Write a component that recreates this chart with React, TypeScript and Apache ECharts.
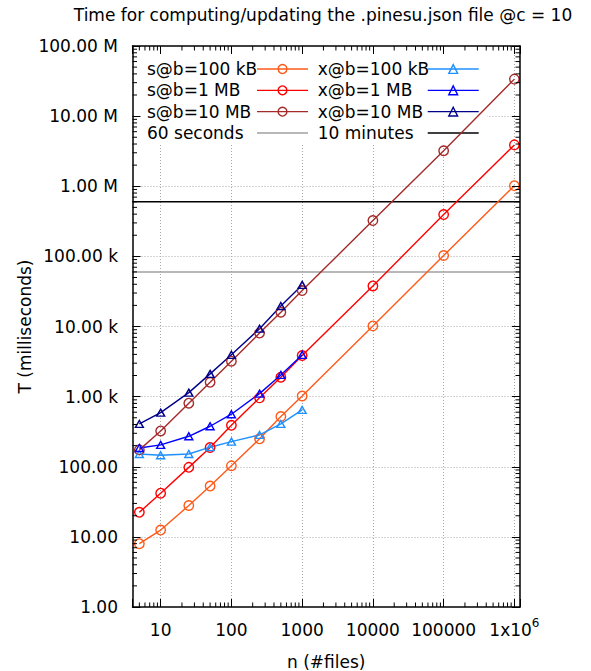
import React, { useEffect, useRef } from 'react';
import * as echarts from 'echarts';

// ---- data ----
const nFiles = [5, 10, 25, 50, 100, 250, 500, 1000, 10000, 100000, 1000000];
const nFilesX = [5, 10, 25, 50, 100, 250, 500, 1000];

const sB100k = [8, 12.5, 28, 53, 103, 250, 520, 1020, 10200, 103000, 1020000];
const sB1M = [22.4, 42, 98, 188, 390, 960, 1890, 3850, 37900, 395000, 3890000];
const sB10M = [174, 324, 806, 1600, 3200, 8050, 16000, 32500, 324000, 3200000, 33700000];

const xB100k = [152, 146, 152, 190, 228, 284, 408, 646];
const xB1M = [185, 205, 272, 378, 561, 1104, 2040, 3935];
const xB10M = [408, 591, 1140, 2110, 3950, 9300, 19600, 39200];

const limit60s = 60000;
const limit10min = 600000;

const xTickLabels = ['10', '100', '1000', '10000', '100000', '{m|1x10}{s|6}'];
const yTickLabels = ['1.00', '10.00', '100.00', '1.00 k', '10.00 k', '100.00 k', '1.00 M', '10.00 M', '100.00 M'];

const seriesNames = ['s@b=100 kB', 's@b=1 MB', 's@b=10 MB', '60 seconds', 'x@b=100 kB', 'x@b=1 MB', 'x@b=10 MB', '10 minutes'];

// ---- styles ----
const FONT = 'DejaVu Sans';
const FS = 17;
const X_MIN = 4;
const X_MAX = 1.2e6;
const Y_MIN = 1;
const Y_MAX = 1e8;
const C = {
  s100k: '#ff5a1a',
  s1M: '#ff0000',
  s10M: '#a52a2a',
  x100k: '#1e90ff',
  x1M: '#0000ff',
  x10M: '#00008b',
  gray: '#a0a0a0',
  black: '#000000',
};
const CLEAR = 'rgba(0,0,0,0)';

const pairs = (xs: number[], ys: number[]) => xs.map((x, i) => [x, ys[i]]);

function dataSeries(name: string, xs: number[], ys: number[], color: string, symbol: string, size: any) {
  return {
    name,
    type: 'line',
    xAxisIndex: 0,
    yAxisIndex: 0,
    data: pairs(xs, ys),
    symbol,
    symbolSize: size,
    showSymbol: true,
    lineStyle: { color, width: 1.4 },
    itemStyle: { color: CLEAR, borderColor: color, borderWidth: 1.4 },
    z: 5,
    silent: true,
    emphasis: { disabled: true },
  };
}

function hSeries(name: string, value: number, color: string) {
  return {
    name,
    type: 'line',
    xAxisIndex: 0,
    yAxisIndex: 0,
    data: [[X_MIN, value], [X_MAX, value]],
    symbol: 'none',
    lineStyle: { color, width: 1.4 },
    itemStyle: { color: CLEAR, borderColor: CLEAR, borderWidth: 0 },
    z: 4,
    silent: true,
    emphasis: { disabled: true },
  };
}

function legendItem(name: string, color: string, withSymbol: boolean) {
  return {
    name,
    itemStyle: withSymbol
      ? { color: CLEAR, borderColor: color, borderWidth: 1.4 }
      : { color: CLEAR, borderColor: CLEAR, borderWidth: 0 },
    lineStyle: { color, width: 1.4 },
  };
}

const minorMult = [2, 3, 4, 5, 6, 7, 8, 9];
const decades = [1, 10, 100, 1000, 10000, 100000, 1000000, 10000000];
const minorX: number[] = [];
const minorY: number[] = [];
decades.forEach((d) =>
  minorMult.forEach((m) => {
    const v = d * m;
    if (v > X_MIN && v < X_MAX) minorX.push(v);
    if (v > Y_MIN && v < Y_MAX) minorY.push(v);
  })
);

function expIndex(v: number) {
  const e = Math.log10(v);
  const r = Math.round(e);
  return Math.abs(e - r) < 1e-6 ? r : -1;
}

export default function App() {
  const ref = useRef<HTMLDivElement>(null);
  useEffect(() => {
    if (!ref.current) return;
    const chart = echarts.init(ref.current, null, { renderer: 'svg' });
    const logX = { type: 'log', logBase: 10, min: X_MIN, max: X_MAX, gridIndex: 0 };
    const logY = { type: 'log', logBase: 10, min: Y_MIN, max: Y_MAX, gridIndex: 0 };
    const border = { show: true, onZero: false, lineStyle: { color: '#000', width: 1.5 } };
    const majorTick = { show: true, inside: true, length: 8, lineStyle: { color: '#000', width: 1 } };
    const grid = { show: true, lineStyle: { color: '#a8a8a8', width: 1, type: [1, 2] } };
    const textBase = { fontFamily: FONT, fontSize: FS, color: '#000' };

    const legendCommon = {
      orient: 'vertical',
      top: 46,
      backgroundColor: '#fff',
      itemWidth: 51,
      itemHeight: 11,
      itemGap: 4.33,
      align: 'right',
      selectedMode: false,
      z: 3,
      formatter: (name: string) => `{t|${name}}`,
      textStyle: {
        ...textBase,
        lineHeight: 17,
        rich: { t: { ...textBase, width: 105, align: 'left', lineHeight: 17 } },
      },
    };

    const option: any = {
      animation: false,
      backgroundColor: '#fff',
      title: {
        text: 'Time for computing/updating the .pinesu.json file @c = 10',
        left: 323,
        top: 6,
        textAlign: 'center',
        padding: 0,
        textStyle: { ...textBase, fontWeight: 'normal' },
      },
      grid: { left: 132.5, top: 46, width: 387.5, height: 561, outerBoundsMode: 'none', containLabel: false },
      legend: [
        {
          ...legendCommon,
          left: 133,
          padding: [14.5, 5, 1.5, 14],
          data: [
            legendItem(seriesNames[0], C.s100k, true),
            legendItem(seriesNames[1], C.s1M, true),
            legendItem(seriesNames[2], C.s10M, true),
            legendItem(seriesNames[3], C.gray, false),
          ],
        },
        {
          ...legendCommon,
          left: 313,
          padding: [14.5, 8, 1.5, 4.7],
          data: [
            legendItem(seriesNames[4], C.x100k, true),
            legendItem(seriesNames[5], C.x1M, true),
            legendItem(seriesNames[6], C.x10M, true),
            legendItem(seriesNames[7], C.black, false),
          ],
        },
      ],
      xAxis: [
        {
          ...logX,
          position: 'bottom',
          z: 10,
          axisLine: border,
          axisTick: majorTick,
          minorTick: { show: false },
          splitLine: { show: false },
          axisLabel: {
            ...textBase,
            margin: 10,
            lineHeight: 26,
            formatter: (v: number) => {
              const e = expIndex(v);
              return e >= 1 && e <= xTickLabels.length ? xTickLabels[e - 1] : '';
            },
            rich: {
              m: { fontFamily: FONT, fontSize: FS, color: '#000', lineHeight: 26 },
              s: { fontFamily: FONT, fontSize: 12, color: '#000', lineHeight: 12, verticalAlign: 'top' },
            },
          },
          name: 'n (#files)',
          nameLocation: 'middle',
          nameGap: 46.5,
          nameMoveOverlap: false,
          nameTextStyle: textBase,
        },
        {
          ...logX,
          position: 'top',
          z: 10,
          axisLine: border,
          axisTick: majorTick,
          axisLabel: { show: false },
          splitLine: { show: false },
        },
        {
          ...logX,
          position: 'bottom',
          z: 0,
          axisLine: { show: false },
          axisTick: { show: false },
          axisLabel: { show: false },
          splitLine: { ...grid, showMinLine: false, showMaxLine: false },
        },
      ],
      yAxis: [
        {
          ...logY,
          position: 'left',
          z: 10,
          axisLine: border,
          axisTick: majorTick,
          minorTick: { show: false },
          splitLine: { show: false },
          axisLabel: {
            ...textBase,
            margin: 14.5,
            formatter: (v: number) => {
              const e = expIndex(v);
              return e >= 0 && e < yTickLabels.length ? yTickLabels[e] : '';
            },
          },
          name: 'T (milliseconds)',
          nameLocation: 'middle',
          nameGap: 99,
          nameMoveOverlap: false,
          nameTextStyle: textBase,
        },
        {
          ...logY,
          position: 'right',
          z: 10,
          axisLine: border,
          axisTick: majorTick,
          axisLabel: { show: false },
          splitLine: { show: false },
        },
        {
          ...logY,
          position: 'left',
          z: 0,
          axisLine: { show: false },
          axisTick: { show: false },
          axisLabel: { show: false },
          splitLine: { ...grid, showMinLine: false, showMaxLine: false },
        },
      ],
      series: [
        dataSeries(seriesNames[0], nFiles, sB100k, C.s100k, 'circle', 9.5),
        dataSeries(seriesNames[1], nFiles, sB1M, C.s1M, 'circle', 9.5),
        dataSeries(seriesNames[2], nFiles, sB10M, C.s10M, 'circle', 9.5),
        hSeries(seriesNames[3], limit60s, C.gray),
        dataSeries(seriesNames[4], nFilesX, xB100k, C.x100k, 'triangle', [8, 7]),
        dataSeries(seriesNames[5], nFilesX, xB1M, C.x1M, 'triangle', [8, 7]),
        dataSeries(seriesNames[6], nFilesX, xB10M, C.x10M, 'triangle', [8, 7]),
        hSeries(seriesNames[7], limit10min, C.black),
        {
          type: 'custom',
          name: 'xMinorTicks',
          xAxisIndex: 0,
          yAxisIndex: 0,
          z: 10,
          silent: true,
          data: minorX.map((v) => [v, Y_MIN]),
          renderItem: (params: any, api: any) => {
            const cs = params.coordSys;
            const px = api.coord([api.value(0), api.value(1)])[0];
            const top = cs.y;
            const bot = cs.y + cs.height;
            return {
              type: 'group',
              children: [
                { type: 'line', shape: { x1: px, y1: bot, x2: px, y2: bot - 4.5 }, style: { stroke: '#000', lineWidth: 1 } },
                { type: 'line', shape: { x1: px, y1: top, x2: px, y2: top + 4.5 }, style: { stroke: '#000', lineWidth: 1 } },
              ],
            };
          },
        },
        {
          type: 'custom',
          name: 'yMinorTicks',
          xAxisIndex: 0,
          yAxisIndex: 0,
          z: 10,
          silent: true,
          data: minorY.map((v) => [10, v]),
          renderItem: (params: any, api: any) => {
            const cs = params.coordSys;
            const py = api.coord([api.value(0), api.value(1)])[1];
            const left = cs.x;
            const right = cs.x + cs.width;
            return {
              type: 'group',
              children: [
                { type: 'line', shape: { x1: left, y1: py, x2: left + 4.5, y2: py }, style: { stroke: '#000', lineWidth: 1 } },
                { type: 'line', shape: { x1: right, y1: py, x2: right - 4.5, y2: py }, style: { stroke: '#000', lineWidth: 1 } },
              ],
            };
          },
        },
      ],
    };
    chart.setOption(option);
    return () => chart.dispose();
  }, []);
  return (
    <div
      ref={ref}
      style={{ position: 'fixed', left: 0, top: 0, width: 591, height: 671, background: '#fff' }}
    />
  );
}
